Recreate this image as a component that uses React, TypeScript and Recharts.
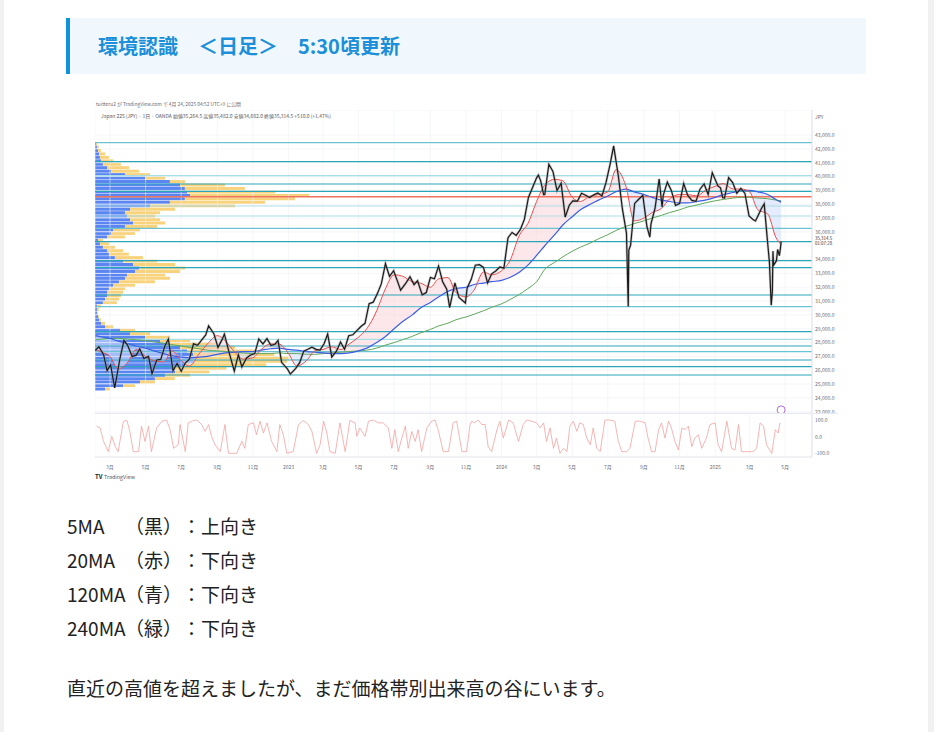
import React from 'react';
import {
  ComposedChart,
  Line,
  Area,
  Bar,
  XAxis,
  YAxis,
  CartesianGrid,
  ReferenceLine,
  ReferenceDot,
} from 'recharts';

// ---- price (Japan 225, daily chart read as weekly closes + key daily extremes) ----
const priceDates = [
  '2022-02-04', '2022-02-10', '2022-02-18', '2022-02-24', '2022-03-02', '2022-03-09', '2022-03-11', '2022-03-18',
  '2022-03-25', '2022-03-31', '2022-04-08', '2022-04-15', '2022-04-21', '2022-04-28', '2022-05-06', '2022-05-12',
  '2022-05-20', '2022-05-27', '2022-06-03', '2022-06-09', '2022-06-17', '2022-06-24', '2022-07-01', '2022-07-08',
  '2022-07-15', '2022-07-22', '2022-07-29', '2022-08-05', '2022-08-12', '2022-08-17', '2022-08-26', '2022-09-02',
  '2022-09-09', '2022-09-13', '2022-09-22', '2022-09-30', '2022-10-07', '2022-10-13', '2022-10-21', '2022-10-28',
  '2022-11-04', '2022-11-11', '2022-11-18', '2022-11-25', '2022-12-02', '2022-12-09', '2022-12-14', '2022-12-20',
  '2022-12-30',
  '2023-01-04', '2023-01-13', '2023-01-20', '2023-01-27', '2023-02-03', '2023-02-10', '2023-02-17', '2023-02-24',
  '2023-03-03', '2023-03-09', '2023-03-16', '2023-03-24', '2023-03-31', '2023-04-07', '2023-04-14', '2023-04-21',
  '2023-04-28', '2023-05-05', '2023-05-12', '2023-05-19', '2023-05-26', '2023-06-02', '2023-06-09', '2023-06-16',
  '2023-06-23', '2023-06-30', '2023-07-07', '2023-07-12', '2023-07-21', '2023-07-28', '2023-08-04', '2023-08-10',
  '2023-08-18', '2023-08-25', '2023-09-01', '2023-09-08', '2023-09-15', '2023-09-22', '2023-09-29', '2023-10-04',
  '2023-10-13', '2023-10-20', '2023-10-31', '2023-11-03', '2023-11-10', '2023-11-17', '2023-11-24', '2023-12-01',
  '2023-12-08', '2023-12-15', '2023-12-22', '2023-12-29',
  '2024-01-05', '2024-01-12', '2024-01-19', '2024-01-26', '2024-02-02', '2024-02-09', '2024-02-16', '2024-02-22',
  '2024-03-01', '2024-03-04', '2024-03-08', '2024-03-13', '2024-03-15', '2024-03-22', '2024-03-29', '2024-04-05',
  '2024-04-12', '2024-04-19', '2024-04-26', '2024-05-02', '2024-05-10', '2024-05-17', '2024-05-24', '2024-05-31',
  '2024-06-07', '2024-06-14', '2024-06-21', '2024-06-28', '2024-07-05', '2024-07-11', '2024-07-19', '2024-07-26',
  '2024-08-02', '2024-08-05', '2024-08-06', '2024-08-09', '2024-08-16', '2024-08-23', '2024-08-30', '2024-09-06',
  '2024-09-11', '2024-09-13', '2024-09-20', '2024-09-27', '2024-10-02', '2024-10-04', '2024-10-11', '2024-10-18',
  '2024-10-25', '2024-11-01', '2024-11-08', '2024-11-15', '2024-11-22', '2024-11-29', '2024-12-06', '2024-12-13',
  '2024-12-20', '2024-12-27',
  '2025-01-06', '2025-01-10', '2025-01-14', '2025-01-17', '2025-01-24', '2025-01-31', '2025-02-07', '2025-02-14',
  '2025-02-21', '2025-02-28', '2025-03-07', '2025-03-11', '2025-03-14', '2025-03-21', '2025-03-26', '2025-03-31',
  '2025-04-04', '2025-04-07', '2025-04-09', '2025-04-10', '2025-04-11', '2025-04-16', '2025-04-18', '2025-04-21',
  '2025-04-23', '2025-04-24',
];
const priceCloses = [
  27440, 27700, 27120, 25970, 26390, 24720, 25160, 26830,
  28150, 27820, 26990, 27090, 27550, 26850, 27000, 25750,
  26740, 26780, 27760, 28250, 25960, 26490, 25930, 26520,
  26790, 27910, 27800, 28180, 28550, 29200, 28640, 27650,
  28210, 28610, 27150, 25940, 27120, 26240, 26890, 27100,
  27200, 28260, 27900, 28280, 27780, 27900, 28150, 26570,
  26090,
  25720, 26120, 26550, 27380, 27510, 27670, 27510, 27450,
  27930, 28620, 26950, 27380, 28040, 27520, 28490, 28560,
  28860, 29160, 29390, 30810, 30920, 31520, 32260, 33700,
  32780, 33190, 32390, 31790, 32300, 32760, 32190, 32470,
  31450, 31620, 32710, 32610, 33530, 32400, 31860, 30530,
  32320, 31260, 30860, 31950, 32570, 33590, 33630, 33430,
  32310, 32970, 33170, 33460,
  33380, 35580, 35960, 35750, 36160, 36900, 38490, 39100,
  39910, 40110, 39690, 38700, 38710, 40890, 40370, 38990,
  39520, 37070, 37930, 38240, 38230, 38790, 38650, 38490,
  38680, 38810, 38600, 39580, 40910, 42220, 40060, 37670,
  35910, 30600, 34680, 35030, 38060, 38360, 38650, 36390,
  35620, 36580, 37720, 39830, 37800, 38640, 39600, 38980,
  37910, 38050, 39500, 38640, 38280, 38210, 39090, 39470,
  38700, 40280,
  39310, 39190, 38470, 38450, 39930, 39570, 38790, 39150,
  38780, 37160, 36890, 36790, 37050, 37680, 38030, 35620,
  33780, 30700, 31710, 34610, 33590, 33920, 34730, 34280,
  34870, 35314.5,
];
const lastPrice = 35314.5;
const countdown = '01:07:28';

// ---- moving averages, read twice a month ----
const maDates = [
  '2022-02-04', '2022-02-15', '2022-03-01', '2022-03-15', '2022-04-01', '2022-04-15', '2022-05-01', '2022-05-15',
  '2022-06-01', '2022-06-15', '2022-07-01', '2022-07-15', '2022-08-01', '2022-08-15', '2022-09-01', '2022-09-15',
  '2022-10-01', '2022-10-15', '2022-11-01', '2022-11-15', '2022-12-01', '2022-12-15',
  '2023-01-01', '2023-01-15', '2023-02-01', '2023-02-15', '2023-03-01', '2023-03-15', '2023-04-01', '2023-04-15',
  '2023-05-01', '2023-05-15', '2023-06-01', '2023-06-15', '2023-07-01', '2023-07-15', '2023-08-01', '2023-08-15',
  '2023-09-01', '2023-09-15', '2023-10-01', '2023-10-15', '2023-11-01', '2023-11-15', '2023-12-01', '2023-12-15',
  '2024-01-01', '2024-01-15', '2024-02-01', '2024-02-15', '2024-03-01', '2024-03-15', '2024-04-01', '2024-04-15',
  '2024-05-01', '2024-05-15', '2024-06-01', '2024-06-15', '2024-07-01', '2024-07-15', '2024-08-01', '2024-08-15',
  '2024-09-01', '2024-09-15', '2024-10-01', '2024-10-15', '2024-11-01', '2024-11-15', '2024-12-01', '2024-12-15',
  '2025-01-01', '2025-01-15', '2025-02-01', '2025-02-15', '2025-03-01', '2025-03-15', '2025-04-01', '2025-04-15',
  '2025-04-24',
];
const ma20 = [
  27500, 27300, 27000, 26100, 26600, 27500, 27000, 26700,
  26600, 27400, 26700, 26300, 27200, 27900, 28500, 28100,
  27300, 26800, 26900, 27500, 27900, 27900,
  27200, 26300, 26700, 27400, 27500, 27700, 27500, 27900,
  28400, 29000, 30300, 31800, 32900, 32800, 32400, 32300,
  32000, 32600, 32700, 31600, 31300, 31800, 33100, 32900,
  33200, 33900, 35800, 36600, 38200, 39400, 39800, 39700,
  38500, 38200, 38600, 38700, 38900, 40500, 39300, 36800,
  37000, 37400, 37700, 38400, 38700, 38700, 38600, 39000,
  39300, 39500, 39100, 39100, 38900, 37600, 37300, 35600,
  35100,
];
const ma120 = [
  28500, 28400, 28300, 28100, 27900, 27750, 27600, 27400,
  27200, 27050, 26950, 26900, 26950, 27000, 27150, 27250,
  27300, 27350, 27350, 27450, 27550, 27600,
  27500, 27450, 27350, 27300, 27250, 27200, 27200, 27250,
  27400, 27600, 28000, 28400, 29000, 29500, 30000, 30500,
  30900, 31300, 31700, 31900, 32000, 32200, 32300, 32400,
  32500, 32700, 33100, 33600, 34300, 35000, 35800, 36500,
  37100, 37600, 38000, 38300, 38600, 38900, 39100, 38900,
  38700, 38500, 38300, 38200, 38100, 38100, 38200, 38300,
  38500, 38700, 38850, 39000, 39000, 38900, 38700, 38350,
  38150,
];
const ma240 = [
  28200, 28250, 28300, 28300, 28250, 28200, 28150, 28050,
  27950, 27850, 27750, 27650, 27550, 27450, 27400, 27350,
  27300, 27250, 27200, 27200, 27200, 27250,
  27200, 27200, 27150, 27150, 27200, 27250, 27300, 27350,
  27400, 27450, 27600, 27800, 28000, 28200, 28450, 28700,
  28950, 29200, 29400, 29650, 29850, 30050, 30300, 30550,
  30800, 31100, 31500, 31900, 32400, 33300, 33800, 34200,
  34600, 34900, 35200, 35500, 35800, 36100, 36400, 36600,
  36800, 37000, 37200, 37400, 37600, 37800, 37950, 38100,
  38250, 38350, 38450, 38500, 38500, 38450, 38400, 38300,
  38250,
];

// ---- oscillator pane (days since 2022-03-01, value) ----
const oscDays = [
  -23, -17, -11, -3, 3, 9, 14, 23, 29, 34, 40, 49, 54, 60, 66, 71, 80, 89, 97, 103,
  109, 117, 120, 129, 134, 143, 149, 157, 163, 169, 174, 180, 189, 197, 203, 217, 226, 231, 237, 246,
  251, 257, 263, 269, 277, 286, 291, 297, 303, 314, 323, 331, 340, 346, 354, 360, 366, 371, 377, 386,
  394, 403, 411, 420, 423, 428, 437, 443, 451, 460, 468, 477, 483, 488, 494, 500, 506, 511, 517, 523,
  528, 534, 543, 551, 557, 563, 571, 580, 588, 594, 603, 611, 617, 620, 625, 631, 637, 643, 648, 654,
  663, 668, 674, 683, 691, 700, 708, 714, 723, 731, 737, 743, 748, 754, 760, 765, 771, 777, 783, 788,
  794, 800, 805, 811, 817, 823, 828, 834, 840, 848, 857, 865, 871, 877, 885, 891, 900, 908, 917, 922,
  928, 934, 940, 945, 951, 957, 962, 968, 974, 980, 985, 991, 997, 1002, 1008, 1014, 1022, 1028, 1037, 1042,
  1048, 1057, 1065, 1071, 1077, 1082, 1088, 1097, 1102, 1108, 1114, 1120, 1125, 1134, 1140, 1145, 1148,
];
const oscValues = [
  63, 53, -28, -89, 2, -59, -89, 93, 97, 32, -89, -89, 63, -28, 63, -89, 53, 93, 100, 42,
  -69, -48, 73, -89, 83, 97, 100, 73, 32, 73, 2, -48, -89, 73, -99, -99, -28, -69, 73, 83,
  12, 93, 22, 83, -28, -89, 73, 12, -99, -89, 73, 97, 73, 32, -99, -48, 93, 32, -89, -99,
  83, -89, 97, 83, 2, 53, 2, 93, 100, 83, 83, 53, -69, 42, -89, -8, 63, -69, 32, -28,
  42, -89, 53, 93, 100, 32, -89, -89, 83, 93, -89, -89, 73, 93, 83, 100, 73, 73, -59, -89,
  42, 93, -8, 100, 83, -28, 73, 100, 93, 83, 53, 83, -28, 53, -69, -8, -99, -69, -89, 63,
  93, 32, 83, 73, -8, -48, 53, -69, -89, 100, 100, 93, -28, -89, -89, -69, 93, 93, 83, -8,
  -89, -89, 42, 83, -8, 93, 53, -28, -79, 53, 42, 63, -59, -8, 12, -69, -8, 73, 83, -48,
  -89, 93, -69, -79, 73, -89, -89, -89, -89, -69, 83, 63, -48, -100, 42, 22, 83,
];

// ---- volume profile (bin centre price, up / down volume, POC bin = 100) ----
const profilePrices = [
  24625, 24875, 25125, 25375, 25625, 25875, 26125, 26375, 26625, 26875, 27125, 27375,
  27625, 27875, 28125, 28375, 28625, 28875, 29125, 29375, 29625, 29875, 30125, 30375,
  30625, 30875, 31125, 31375, 31625, 31875, 32125, 32375, 32625, 32875, 33125, 33375,
  33625, 33875, 34125, 34375, 34625, 34875, 35125, 35375, 35625, 35875, 36125, 36375,
  36625, 36875, 37125, 37375, 37625, 37875, 38125, 38375, 38625, 38875, 39125, 39375,
  39625, 39875, 40125, 40375, 40625, 40875, 41125, 41375, 41625, 41875, 42125, 42375,
];
const profileUp = [
  4.7, 13.1, 21, 28, 32.7, 37.4, 37.4, 42, 45.8, 46.7, 45.8, 43,
  39.7, 35, 30.4, 23.4, 16.4, 11.7, 4.7, 2.8, 1.9, 1.4, 0.9, 0.9,
  0.9, 3.7, 4.7, 5.6, 5.6, 6.5, 8.4, 11.2, 14, 15, 18.7, 20.6,
  17.8, 13.1, 9.3, 6.5, 5.6, 3.7, 2.3, 1.4, 5.6, 7.5, 8.4, 14,
  17.8, 16.4, 15, 14, 16.4, 25.7, 35, 42, 44.4, 43, 42, 39.7,
  35, 23.4, 14, 7.5, 5.6, 3.7, 2.8, 2.3, 1.9, 1.4, 0.9, 0.5,
];
const profileDown = [
  2.3, 5.6, 7, 9.3, 11.7, 16, 24, 38, 44, 44, 38, 31.8,
  25.7, 21, 14, 11.7, 9.3, 7, 3.7, 1.9, 0.9, 0.5, 0.5, 0.9,
  1.9, 6.5, 6.5, 6.5, 7.5, 7.5, 10.3, 16.8, 21, 17.8, 21, 21.5,
  19.6, 15.9, 13.1, 9.3, 7.5, 5.6, 4.2, 2.3, 8.4, 11.2, 12.6, 15,
  15, 14, 13.1, 16.4, 21, 39.7, 44.4, 51.4, 55.6, 41.1, 28, 21,
  7, 9.3, 11.7, 13.1, 10.3, 8.4, 5.6, 4.2, 2.8, 1.4, 0.9, 0.5,
];

// ---- horizontal support / resistance lines ----
const strongLevels = [41076, 39464, 38937, 35292, 33918, 33412, 31438, 28785, 27750, 26738, 26254, 25654];
const mediumLevels = [42450, 36261, 30592, 27338];
const lightLevels = [40064, 37874, 37151, 28235];
const pocLevel = 38546;

// ---- axes ----
const priceTicks = [
  23000, 24000, 25000, 26000, 27000, 28000, 29000, 30000, 31000, 32000, 33000, 34000,
  35314.5, 36000, 37000, 38000, 39000, 40000, 41000, 42000, 43000,
];
const oscTicks = [100, 0, -100];
const monthTickDates = [
  '2022-03-01', '2022-05-01', '2022-07-01', '2022-09-01', '2022-11-01', '2023-01-01', '2023-03-01',
  '2023-05-01', '2023-07-01', '2023-09-01', '2023-11-01', '2024-01-01', '2024-03-01', '2024-05-01',
  '2024-07-01', '2024-09-01', '2024-11-01', '2025-01-01', '2025-03-01', '2025-05-01',
];
const monthTickLabels = [
  '3月', '5月', '7月', '9月', '11月', '2023', '3月', '5月', '7月', '9月', '11月', '2024', '3月', '5月',
  '7月', '9月', '11月', '2025', '3月', '5月',
];

const DAY0 = Date.UTC(2022, 2, 1);
const toDay = (d: string) => (Date.parse(d) - DAY0) / 86400000;

const X_DOMAIN: [number, number] = [-25.7, 1202.9];
const Y_DOMAIN: [number, number] = [22906, 44815];
const OSC_DOMAIN: [number, number] = [-121, 136];

const priceData = priceDates.map((d, i) => ({ day: toDay(d), close: priceCloses[i] }));
const maData = maDates.map((d, i) => ({ day: toDay(d), ma20: ma20[i], ma120: ma120[i], ma240: ma240[i] }));
const oscData = oscDays.map((d, i) => ({ day: d, osc: oscValues[i] }));
const profileData = profilePrices.map((p, i) => ({ price: p, up: profileUp[i], down: profileDown[i] }));
const monthTicks = monthTickDates.map(toDay);
const monthLabel: Record<string, string> = {};
monthTicks.forEach((t, i) => { monthLabel[String(t)] = monthTickLabels[i]; });

const pinkCloud = (d: any) => (d.ma20 >= d.ma120 ? [d.ma120, d.ma20] : [d.ma120, d.ma120]);
const blueCloud = (d: any) => (d.ma20 < d.ma120 ? [d.ma20, d.ma120] : [d.ma20, d.ma20]);

const AXIS_TEXT = '#6a6d78';
const TV_FONT = '"Noto Sans CJK JP", "Noto Sans", sans-serif';

const fmtPrice = (v: number) =>
  v.toLocaleString('en-US', { minimumFractionDigits: 1, maximumFractionDigits: 1 });

const PriceTick = (props: any) => {
  const { x, y, payload } = props;
  if (payload.value === lastPrice) {
    return (
      <g>
        <text x={x} y={y - 1.6} fontSize={4.4} fill="#2a2e39" fontFamily={TV_FONT}>{fmtPrice(payload.value)}</text>
        <text x={x} y={y + 3.6} fontSize={4.4} fill="#2a2e39" fontFamily={TV_FONT}>{countdown}</text>
      </g>
    );
  }
  return (
    <text x={x} y={y + 1.8} fontSize={5} fill={AXIS_TEXT} fontFamily={TV_FONT}>{fmtPrice(payload.value)}</text>
  );
};

const OscTick = (props: any) => {
  const { x, y, payload } = props;
  return (
    <text x={x} y={y + 1.8} fontSize={5} fill={AXIS_TEXT} fontFamily={TV_FONT}>{fmtPrice(payload.value)}</text>
  );
};

const TimeTick = (props: any) => {
  const { x, y, payload } = props;
  return (
    <text x={x} y={y + 4} fontSize={5} fill={AXIS_TEXT} textAnchor="middle" fontFamily={TV_FONT}>
      {monthLabel[String(payload.value)]}
    </text>
  );
};

const rows = [
  ['5MA', '（黒）：上向き'],
  ['20MA', '（赤）：下向き'],
  ['120MA', '（青）：下向き'],
  ['240MA', '（緑）：下向き'],
];

const cjkText: any = { textSpacingTrim: 'space-all', whiteSpace: 'pre' };

export default function App() {
  return (
    <div style={{ position: 'absolute', left: 0, top: 0, width: 934, height: 732, background: '#f1f1f1', overflow: 'hidden', fontFamily: '"Noto Sans CJK JP", sans-serif' }}>
      <div style={{ position: 'absolute', left: 4, top: 0, width: 924, height: 732, background: '#ffffff' }} />

      {/* heading */}
      <div style={{ position: 'absolute', left: 66, top: 18, width: 796, height: 56, background: '#f0f8fd', borderLeft: '4px solid #0f94dc' }}>
        <div style={{ ...cjkText, position: 'absolute', left: 28, top: 0, lineHeight: '56px', fontSize: 20, fontWeight: 700, color: '#1b8fd9' }}>
          環境認識　＜日足＞　5:30頃更新
        </div>
      </div>

      {/* volume profile, under the price pane */}
      <div style={{ position: 'absolute', left: 95, top: 110 }}>
        <ComposedChart layout="vertical" width={717} height={303} data={profileData} margin={{ top: 0, right: 0, bottom: 0, left: 0 }}>
          <XAxis type="number" domain={[0, 335]} allowDataOverflow hide />
          <YAxis type="number" dataKey="price" domain={Y_DOMAIN} allowDataOverflow reversed hide />
          <Bar dataKey="up" stackId="v" fill="#5b86f2" barSize={3} isAnimationActive={false} />
          <Bar dataKey="down" stackId="v" fill="#f8d37c" barSize={3} isAnimationActive={false} />
        </ComposedChart>
      </div>

      {/* price pane */}
      <div style={{ position: 'absolute', left: 95, top: 110 }}>
        <ComposedChart width={743} height={303} margin={{ top: 0, right: 0, bottom: 0, left: 0 }}>
          <CartesianGrid stroke="#eef0f5" strokeWidth={0.6} />
          <XAxis type="number" dataKey="day" domain={X_DOMAIN} allowDataOverflow ticks={monthTicks} hide />
          <YAxis
            orientation="right"
            width={26}
            type="number"
            domain={Y_DOMAIN}
            allowDataOverflow
            ticks={priceTicks}
            interval={0}
            tick={<PriceTick />}
            tickSize={0}
            tickMargin={3}
            axisLine={{ stroke: '#e0e3eb' }}
          />
          <Area data={maData} dataKey={pinkCloud} type="monotone" stroke="none" fill="#f9d6d8" fillOpacity={0.55} isAnimationActive={false} />
          <Area data={maData} dataKey={blueCloud} type="monotone" stroke="none" fill="#d4e0fb" fillOpacity={0.6} isAnimationActive={false} />
          {lightLevels.map((v) => (
            <ReferenceLine key={`l${v}`} y={v} stroke="#a9dde6" strokeWidth={1.2} />
          ))}
          {mediumLevels.map((v) => (
            <ReferenceLine key={`m${v}`} y={v} stroke="#6cc4d2" strokeWidth={1.2} />
          ))}
          {strongLevels.map((v) => (
            <ReferenceLine key={`s${v}`} y={v} stroke="#2ba6b9" strokeWidth={1.2} />
          ))}
          <ReferenceLine y={pocLevel} stroke="#f0735f" strokeWidth={1.6} />
          <Line data={maData} dataKey="ma240" type="monotone" stroke="#5fa85a" strokeWidth={1} dot={false} isAnimationActive={false} />
          <Line data={maData} dataKey="ma120" type="monotone" stroke="#3a5fe8" strokeWidth={1.2} dot={false} isAnimationActive={false} />
          <Line data={maData} dataKey="ma20" type="monotone" stroke="#ec4e4e" strokeWidth={1} dot={false} isAnimationActive={false} />
          <Line data={priceData} dataKey="close" type="linear" stroke="#9a9a9a" strokeWidth={2.6} strokeOpacity={0.5} dot={false} isAnimationActive={false} />
          <Line data={priceData} dataKey="close" type="linear" stroke="#1b1b1b" strokeWidth={1.2} dot={false} isAnimationActive={false} />
          <ReferenceDot x={toDay('2025-04-24')} y={23130} r={4} fill="#ffffff" stroke="#a35bd6" strokeWidth={0.9} />
        </ComposedChart>
      </div>

      {/* oscillator pane + time axis */}
      <div style={{ position: 'absolute', left: 95, top: 414 }}>
        <ComposedChart width={743} height={56} data={oscData} margin={{ top: 0, right: 0, bottom: 0, left: 0 }}>
          <CartesianGrid stroke="#eef0f5" strokeWidth={0.6} horizontal={false} />
          <XAxis
            type="number"
            dataKey="day"
            domain={X_DOMAIN}
            allowDataOverflow
            ticks={monthTicks}
            interval={0}
            height={13}
            tick={<TimeTick />}
            tickLine={false}
            axisLine={{ stroke: '#e0e3eb' }}
          />
          <YAxis
            orientation="right"
            width={26}
            type="number"
            domain={OSC_DOMAIN}
            allowDataOverflow
            ticks={oscTicks}
            interval={0}
            tick={<OscTick />}
            tickSize={0}
            tickMargin={3}
            axisLine={{ stroke: '#e0e3eb' }}
          />
          <Line dataKey="osc" type="linear" stroke="#f3a2a2" strokeWidth={0.8} dot={false} isAnimationActive={false} />
        </ComposedChart>
      </div>

      {/* tiny TradingView texts */}
      <svg style={{ position: 'absolute', left: 0, top: 0 }} width={934} height={732}>
        <line x1={95} y1={413.5} x2={838} y2={413.5} stroke="#e0e3eb" strokeWidth={0.8} />
        <text x={96} y={106} fontSize={5} fill="#6a6d78" fontFamily={TV_FONT} textLength={145} lengthAdjust="spacingAndGlyphs">
          tuitteru2 が TradingView.com で 4月 24, 2025 04:52 UTC+9 に公開
        </text>
        <text x={101} y={118} fontSize={5} fill="#555963" fontFamily={TV_FONT} textLength={230} lengthAdjust="spacingAndGlyphs">
          Japan 225 (JPY) · 1日 · OANDA 始値35,264.5 高値35,482.0 安値34,682.0 終値35,314.5 +510.0 (+1.47%)
        </text>
        <text x={815} y={119} fontSize={5} fill={AXIS_TEXT} fontFamily={TV_FONT}>JPY</text>
        <text x={95} y={479} fontSize={6} fontWeight={700} fill="#131722" fontFamily={TV_FONT}>TV</text>
        <text x={104} y={479} fontSize={5} fill="#50535e" fontFamily={TV_FONT} textLength={31} lengthAdjust="spacingAndGlyphs">TradingView</text>
      </svg>

      {/* body text */}
      <div style={{ position: 'absolute', left: 67, top: 509, fontSize: 19, lineHeight: '34px', color: '#222' }}>
        {rows.map(([name, rest]) => (
          <div key={name} style={cjkText}>
            <span style={{ display: 'inline-block', width: 58 }}>{name}</span>
            {rest}
          </div>
        ))}
      </div>
      <div style={{ ...cjkText, position: 'absolute', left: 67, top: 671, fontSize: 19, lineHeight: '34px', color: '#222' }}>
        直近の高値を超えましたが、まだ価格帯別出来高の谷にいます。
      </div>
    </div>
  );
}
